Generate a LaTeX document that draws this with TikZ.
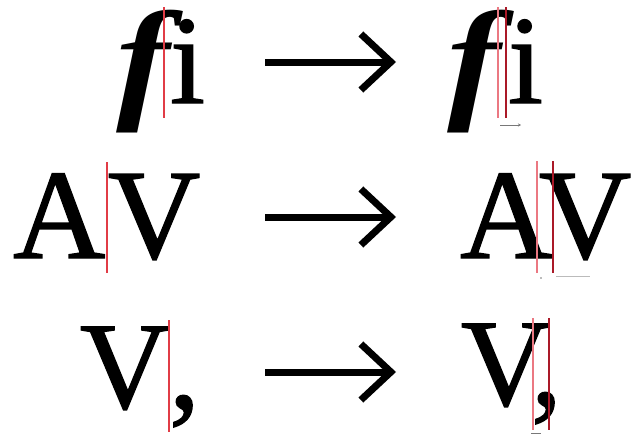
\documentclass[tikz,border=0pt]{standalone}
\usepackage{fontspec}
\setmainfont{Liberation Serif}
\newfontfamily\heavyserif[FakeBold=1.1]{Liberation Serif}
\newfontfamily\heavyital{Liberation Serif Bold Italic}
\usetikzlibrary{arrows.meta}
\definecolor{guide}{RGB}{225,60,70}
\definecolor{guidelight}{RGB}{235,120,130}
\definecolor{guidedark}{RGB}{170,25,40}
\definecolor{marker}{RGB}{120,120,120}
\tikzset{
  glyph/.style={anchor=base west, inner sep=0pt, outer sep=0pt, font=\fontsize{#1}{#1}\heavyserif},
  glyph/.default=126,
  iglyph/.style={anchor=base west, inner sep=0pt, outer sep=0pt, xscale=1.2, font=\fontsize{#1}{#1}\heavyital},
  guideline/.style={draw=guide, line width=1.1pt},
  guidelineA/.style={draw=guidelight, line width=1.1pt},
  guidelineB/.style={draw=guidedark, line width=1.1pt},
  bigarrow/.style={line width=7pt, -{Straight Barb[length=30pt,width=56pt,line width=7pt]}},
  smallmark/.style={draw=marker, line width=0.8pt},
}
\begin{document}
\begin{tikzpicture}[x=1pt,y=-1pt]
\useasboundingbox (0,0) rectangle (631,439);
% ---- row 1: fi
\node[iglyph=134] (f1) at (116,104) {f};
\node[glyph=126] (i1) at (170,103) {i};
\coordinate (g1t) at (164,7); \coordinate (g1b) at (164,118);
\draw[guideline] (g1t) -- (g1b);
\coordinate (s1) at (265,62); \coordinate (e1) at (396,62);
\draw[bigarrow] (s1) -- (e1);
\node[iglyph=134] (f2) at (447,104) {f};
\node[glyph=126] (i2) at (508,103) {i};
\coordinate (g2t) at (498,7); \coordinate (g2b) at (498,118);
\coordinate (g3t) at (506,7); \coordinate (g3b) at (506,118);
\draw[guidelineA] (g2t) -- (g2b);
\draw[guidelineB] (g3t) -- (g3b);
\coordinate (m1a) at (500,125); \coordinate (m1b) at (521,125);
\draw[smallmark,-{Stealth[length=3pt,width=3pt]}] (m1a) -- (m1b);
% ---- row 2: AV
\node[glyph=128] (a1) at (13,258) {A};
\node[glyph=128] (v1) at (108,258) {V};
\coordinate (g4t) at (107,162); \coordinate (g4b) at (107,273);
\draw[guideline] (g4t) -- (g4b);
\coordinate (s2) at (265,217); \coordinate (e2) at (396,217);
\draw[bigarrow] (s2) -- (e2);
\node[glyph=128] (a2) at (460,258) {A};
\node[glyph=128] (v2) at (539,258) {V};
\coordinate (g5t) at (537,161); \coordinate (g5b) at (537,273);
\coordinate (g6t) at (553,161); \coordinate (g6b) at (553,273);
\draw[guidelineA] (g5t) -- (g5b);
\draw[guidelineB] (g6t) -- (g6b);
\coordinate (m2a) at (556,276); \coordinate (m2b) at (590,276);
\draw[smallmark, draw=marker!50] (m2a) -- (m2b);
\fill[marker] (541,278) circle (0.9pt);
% ---- row 3: V,
\node[glyph=124] (v3) at (80,408) {V};
\node[glyph=124] (c3) at (169,408) {,};
\coordinate (g7t) at (169,320); \coordinate (g7b) at (169,432);
\draw[guideline] (g7t) -- (g7b);
\coordinate (s3) at (265,372); \coordinate (e3) at (396,372);
\draw[bigarrow] (s3) -- (e3);
\node[glyph=124] (v4) at (461,405) {V};
\node[glyph=124] (c4) at (531,405) {,};
\coordinate (g8t) at (533,318); \coordinate (g8b) at (533,430);
\coordinate (g9t) at (549,318); \coordinate (g9b) at (549,430);
\draw[guidelineA] (g8t) -- (g8b);
\draw[guidelineB] (g9t) -- (g9b);
\coordinate (m3a) at (531,433); \coordinate (m3b) at (541,433);
\draw[smallmark] (m3a) -- (m3b);
\end{tikzpicture}
\end{document}
